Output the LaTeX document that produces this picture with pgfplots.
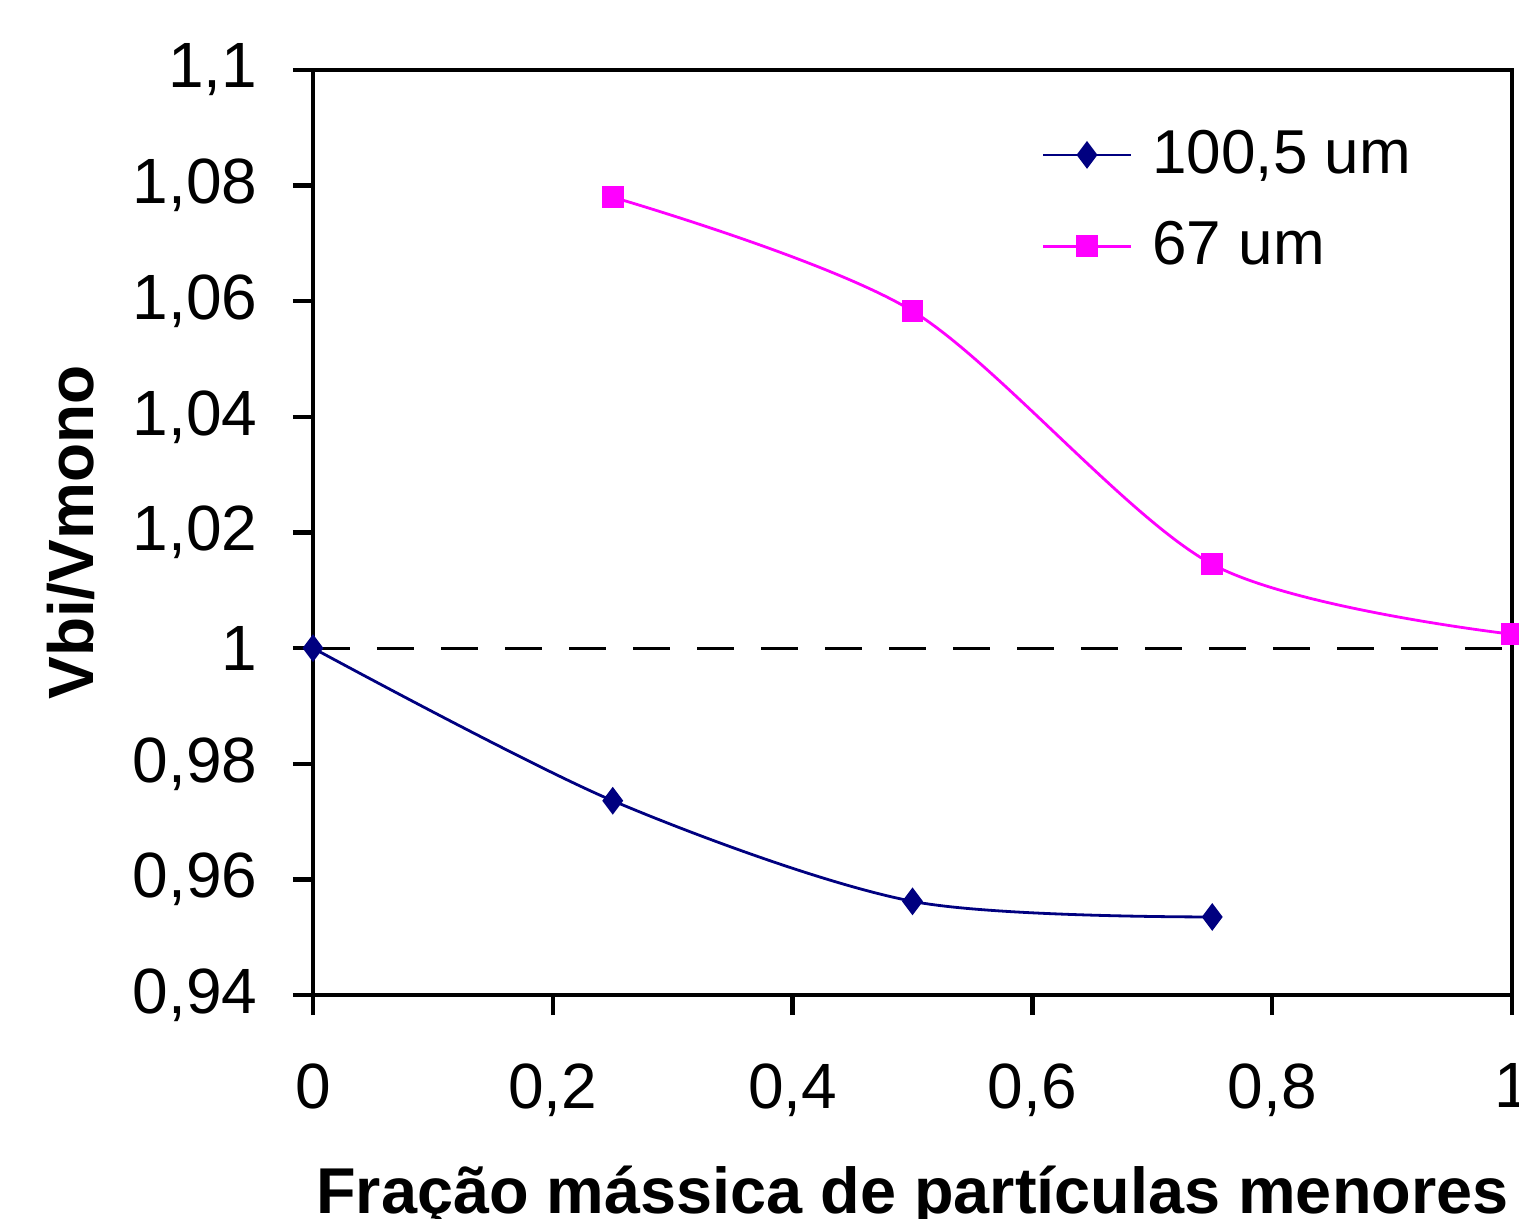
\documentclass[border=0pt]{standalone}
\usepackage{fontspec}
\setmainfont{Liberation Sans}
\usepackage{pgfplots}
\pgfplotsset{compat=1.18}
\definecolor{navyc}{RGB}{0,0,128}
\definecolor{magc}{RGB}{255,0,255}
\begin{document}
\begin{tikzpicture}
\begin{axis}[
  name=ax,
  scale only axis,
  width=299.75pt, height=231.25pt,
  xmin=0, xmax=1, ymin=0.94, ymax=1.1,
  xtick={0,0.2,0.4,0.6,0.8,1},
  ytick={0.94,0.96,0.98,1,1.02,1.04,1.06,1.08,1.1},
  tick align=outside, xtick pos=bottom, ytick pos=left,
  major tick length=5pt,
  axis line style={line width=1.1pt},
  every tick/.style={line width=1.1pt, black},
  /pgf/number format/assume math mode=true,
  /pgf/number format/use comma,
  tick label style={font=\fontsize{16}{19}\selectfont},
  yticklabel style={anchor=east, inner sep=0pt, xshift=-8.75pt},
  xticklabel style={anchor=north, inner sep=0pt, yshift=-12pt},
  xlabel={\textbf{Fração mássica de partículas menores}},
  ylabel={\textbf{Vbi/Vmono}},
  every axis x label/.style={at={(axis description cs:0.5,0)}, anchor=base, yshift=-54.5pt, font=\fontsize{16.2}{19}\selectfont},
  every axis y label/.style={at={(axis description cs:0,0.5)}, xshift=-60.5pt, rotate=90, anchor=center, font=\fontsize{16}{19}\selectfont},
  legend style={draw=none, fill=none, at={(0.597,0.953)}, anchor=north west,
    font=\fontsize{15.5}{18}\selectfont, row sep=6.5pt, column sep=3pt},
  legend cell align=left,
  legend image code/.code={\draw[mark repeat=2,mark phase=2,#1] plot coordinates {(0pt,0pt) (11pt,0pt) (22pt,0pt)};},
]
\addplot[black, line width=0.8pt, dash pattern=on 9.25pt off 6.75pt, forget plot] coordinates {(0,1) (1,1)};
\addplot[navyc, line width=0.7pt, smooth, mark=diamond*, mark size=2.9pt, mark options={solid}] coordinates {
(0,1.0) (0.25,0.9736) (0.5,0.9562) (0.75,0.9535)};
\addlegendentry{100,5 um}
\addplot[magc, line width=0.7pt, smooth, mark=square*, mark size=2.35pt] coordinates {
(0.25,1.078) (0.5,1.0583) (0.75,1.0145) (1.0,1.0024)};
\addlegendentry{67 um}
\end{axis}
\pgfresetboundingbox
\path[use as bounding box] ([shift={(-78.25pt,-56pt)}]ax.south west) rectangle ([shift={(1.75pt,17.5pt)}]ax.north east);
\end{tikzpicture}
\end{document}
